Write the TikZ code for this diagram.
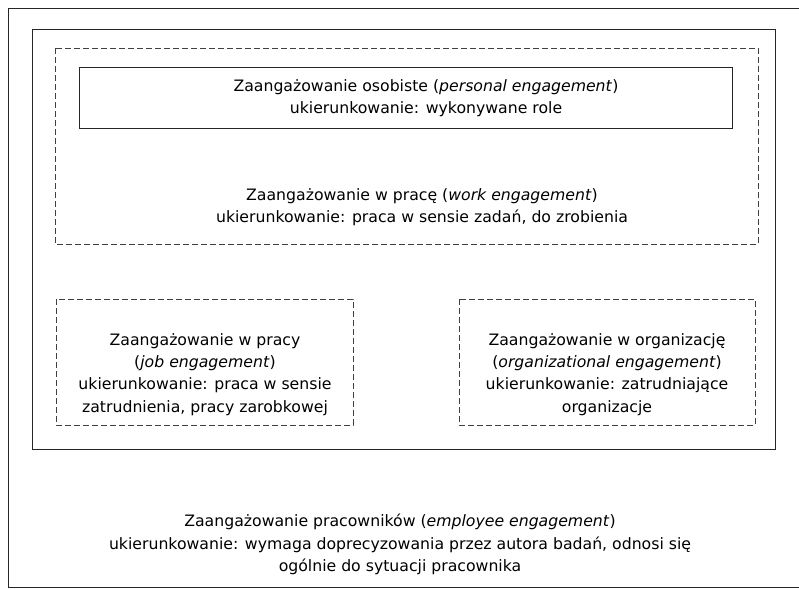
\documentclass[tikz,border=0pt]{standalone}
\usepackage{fontspec}
\setmainfont{DejaVu Sans}
\begin{document}
\begin{tikzpicture}[x=1pt,y=-1pt,
  frame/.style={draw=black!85, line width=1pt},
  dashframe/.style={draw=black!75, line width=1pt, dash pattern=on 6pt off 3pt},
  label/.style={align=center, font=\fontsize{15.7}{22.2}\selectfont, inner sep=0pt}]
\useasboundingbox (0,0) rectangle (799,589);
% outer frame (its right side lies beyond the page edge)
\draw[frame] (8,8) rectangle (803,587);
% inner frame
\draw[frame] (32,29) rectangle (775,449);
% work engagement frame
\draw[dashframe] (55,48) rectangle (758,244);
% personal engagement box
\draw[frame] (79,67) rectangle (732,128);
% job and organizational engagement frames
\draw[dashframe] (56,299) rectangle (353,425);
\draw[dashframe] (459,299) rectangle (755,425);

\node[label] (personal) at (426,98.5) {Zaangażowanie osobiste (\textit{personal engagement})\\ukierunkowanie: wykonywane role};
\node[label] (work) at (422,207.5) {Zaangażowanie w pracę (\textit{work engagement})\\ukierunkowanie: praca w sensie zadań, do zrobienia};
\node[label] (job) at (205,374.5) {Zaangażowanie w pracy\\(\textit{job engagement})\\ukierunkowanie: praca w sensie\\zatrudnienia, pracy zarobkowej};
\node[label] (org) at (607,374.5) {Zaangażowanie w organizację\\(\textit{organizational engagement})\\ukierunkowanie: zatrudniające\\organizacje};
\node[label] (employee) at (400,544.5) {Zaangażowanie pracowników (\textit{employee engagement})\\ukierunkowanie: wymaga doprecyzowania przez autora badań, odnosi się\\ogólnie do sytuacji pracownika};
\end{tikzpicture}
\end{document}
